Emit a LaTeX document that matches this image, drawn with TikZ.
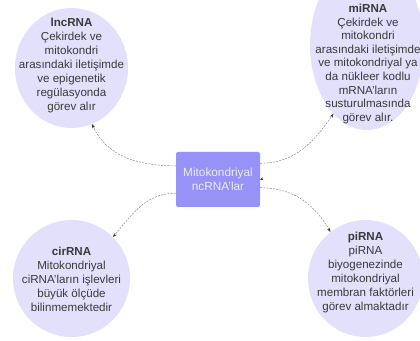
\documentclass[tikz,border=0pt]{standalone}
\usepackage{fontspec}
\setmainfont{Liberation Sans}
\usepackage{xcolor}
\usetikzlibrary{arrows.meta,shapes.geometric}
\definecolor{bubble}{HTML}{E2E0FB}
\definecolor{boxfill}{HTML}{9692F8}
\definecolor{ink}{HTML}{3A3A3A}
\begin{document}
\begin{tikzpicture}[x=1pt, y=1pt]
\tikzstyle{bub}=[ellipse, fill=bubble, inner sep=0pt]
\tikzstyle{bubtext}=[text=ink, align=center, inner sep=0pt,
                     font=\fontsize{11.6}{14}\selectfont]
\tikzstyle{conn}=[draw=black!50, dash pattern=on 2pt off 1.2pt, line width=.45pt,
                  -{Stealth[length=4pt,width=3pt,black!80]}]
\useasboundingbox (0,0) rectangle (420,340);
\clip (0,0) rectangle (420,340);
% bubbles
\node[bub, minimum width=113pt, minimum height=120pt] (lnc) at (71.5,272) {};
\node[bub, minimum width=114pt, minimum height=170pt] (mi) at (367,295) {};
\node[bub, minimum width=117pt, minimum height=117pt] (cir) at (71.5,61.5) {};
\node[bub, minimum width=115pt, minimum height=117pt] (pi) at (365.5,61.5) {};
% texts
\node[bubtext] (lncT) at (71.5,274.5)
  {\textbf{lncRNA}\\Çekirdek ve\\mitokondri\\arasındaki iletişimde\\ve epigenetik\\regülasyonda\\görev alır};
\node[bubtext, font=\fontsize{11.6}{13.6}\selectfont] (miT) at (368,276)
  {\textbf{miRNA}\\Çekirdek ve\\mitokondri\\arasındaki iletişimde\\ve mitokondriyal ya\\da nükleer kodlu\\mRNA'ların\\susturulmasında\\görev alır.};
\node[bubtext] (cirT) at (71.5,60.5)
  {\textbf{cirRNA}\\Mitokondriyal\\ciRNA'ların işlevleri\\büyük ölçüde\\bilinmemektedir};
\node[bubtext] (piT) at (365.5,67.5)
  {\textbf{piRNA}\\piRNA\\biyogenezinde\\mitokondriyal\\membran faktörleri\\görev almaktadır};
\node[rectangle, rounded corners=2pt, fill=boxfill, text=white!92!blue, align=center,
      minimum width=84pt, minimum height=55pt, inner sep=0pt,
      font=\fontsize{11.8}{13.5}\selectfont] (mito) at (218,160.5) {Mitokondriyal\\ncRNA'lar};
\foreach \a/\b/\o/\i in {162/lnc.-70/180/-65, 21/mi.-116/0/-125,
                         198/cir.45/180/50, -11/pi.127/0/120}{
  \draw[conn] (mito.\a) to[out=\o, in=\i] (\b);}
\coordinate (stub) at (262,161);
\draw[-{Stealth[length=3pt,width=3pt,black!80]}] (stub) -- (mito.east);
\end{tikzpicture}
\end{document}
